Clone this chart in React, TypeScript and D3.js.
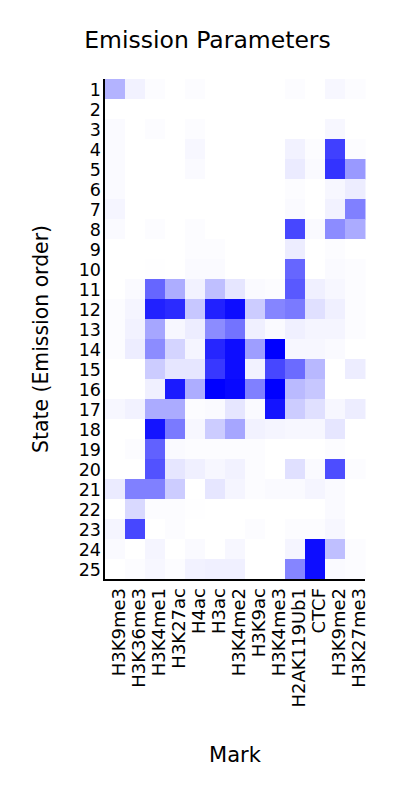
import React from "react";
import * as d3 from "d3";

const marks = [
  "H3K9me3", "H3K36me3", "H3K4me1", "H3K27ac", "H4ac", "H3ac", "H3K4me2",
  "H3K9ac", "H3K4me3", "H2AK119Ub1", "CTCF", "H3K9me2", "H3K27me3",
];
const states = d3.range(1, 26).map(String);

// emission probabilities, one row per state, columns follow `marks`
const s01 = [0.3, 0.05, 0.01, 0, 0.01, 0, 0, 0, 0, 0.01, 0, 0.03, 0.01];
const s02 = [0, 0, 0, 0, 0, 0, 0, 0, 0, 0, 0, 0, 0];
const s03 = [0.02, 0, 0.01, 0, 0.01, 0, 0, 0, 0, 0, 0, 0.03, 0];
const s04 = [0.02, 0, 0, 0, 0.03, 0, 0, 0, 0, 0.05, 0.01, 0.75, 0.01];
const s05 = [0.02, 0, 0, 0, 0.02, 0, 0, 0, 0, 0.08, 0.02, 0.8, 0.4];
const s06 = [0.02, 0, 0, 0, 0, 0, 0, 0, 0, 0.01, 0, 0.03, 0.07];
const s07 = [0.04, 0, 0, 0, 0, 0, 0, 0, 0, 0.02, 0, 0.05, 0.5];
const s08 = [0.02, 0, 0.01, 0, 0.01, 0, 0, 0, 0, 0.72, 0.02, 0.45, 0.33];
const s09 = [0, 0, 0, 0, 0.01, 0.01, 0, 0, 0, 0.07, 0, 0.01, 0];
const s10 = [0, 0, 0.005, 0, 0.02, 0.02, 0, 0, 0, 0.6, 0, 0.02, 0.01];
const s11 = [0, 0.02, 0.6, 0.32, 0.05, 0.25, 0.1, 0.02, 0.01, 0.65, 0.06, 0.03, 0.01];
const s12 = [0.01, 0.04, 0.87, 0.83, 0.22, 0.87, 0.95, 0.2, 0.48, 0.52, 0.12, 0.06, 0.01];
const s13 = [0.01, 0.05, 0.35, 0.03, 0.07, 0.45, 0.55, 0.06, 0.02, 0.06, 0.04, 0.04, 0.01];
const s14 = [0.01, 0.07, 0.45, 0.17, 0.04, 0.85, 0.95, 0.38, 1.0, 0.03, 0.03, 0.02, 0];
const s15 = [0, 0, 0.2, 0.1, 0.1, 0.78, 0.95, 0.05, 0.72, 0.58, 0.28, 0, 0.07];
const s16 = [0, 0, 0.06, 0.9, 0.32, 1.0, 0.97, 0.5, 1.0, 0.27, 0.22, 0, 0];
const s17 = [0.03, 0.05, 0.33, 0.33, 0.01, 0.02, 0.1, 0.02, 0.92, 0.2, 0.12, 0.03, 0.07];
const s18 = [0, 0, 0.92, 0.52, 0.03, 0.2, 0.35, 0.05, 0.04, 0.03, 0.03, 0.1, 0];
const s19 = [0, 0.01, 0.62, 0.02, 0.01, 0.01, 0.01, 0.01, 0, 0, 0, 0.01, 0];
const s20 = [0, 0, 0.68, 0.1, 0.06, 0.03, 0.05, 0.01, 0, 0.12, 0.02, 0.7, 0.01];
const s21 = [0.08, 0.5, 0.5, 0.2, 0, 0.1, 0.04, 0.01, 0.02, 0.02, 0.04, 0.02, 0];
const s22 = [0, 0.15, 0.01, 0.01, 0.005, 0, 0, 0, 0, 0, 0, 0.02, 0];
const s23 = [0.04, 0.72, 0, 0.01, 0, 0, 0, 0.01, 0, 0.01, 0.01, 0.03, 0];
const s24 = [0.02, 0, 0.04, 0, 0.02, 0, 0.03, 0, 0, 0.04, 0.95, 0.25, 0.01];
const s25 = [0, 0.01, 0.03, 0.01, 0.05, 0.06, 0.06, 0, 0, 0.48, 0.95, 0.02, 0.01];

const emissions = [
  s01, s02, s03, s04, s05, s06, s07, s08, s09, s10, s11, s12, s13,
  s14, s15, s16, s17, s18, s19, s20, s21, s22, s23, s24, s25,
];

const W = 415;
const H = 793;
const left = 105;
const right = 365;
const top = 79;
const bottom = 579;
const font = "DejaVu Sans, sans-serif";

export default function App() {
  const x = d3.scaleBand<string>().domain(marks).range([left, right]);
  const y = d3.scaleBand<string>().domain(states).range([top, bottom]);
  const color = d3.scaleLinear<string>().domain([0, 1]).range(["#ffffff", "#0000ff"]).clamp(true);

  return (
    <svg
      width={W}
      height={H}
      style={{ position: "absolute", left: 0, top: 0, background: "#fff" }}
      fontFamily={font}
    >
      <rect x={0} y={0} width={W} height={H} fill="#fff" />
      <text x={W / 2} y={48} textAnchor="middle" fontSize={23.5} fill="#000">
        Emission Parameters
      </text>
      {emissions.map((row, i) =>
        row.map((v, j) => (
          <rect
            key={`${i}-${j}`}
            x={x(marks[j])}
            y={y(states[i])}
            width={x.bandwidth() + 0.5}
            height={y.bandwidth() + 0.5}
            fill={color(v)}
          />
        ))
      )}
      <line x1={left - 1} x2={left - 1} y1={top} y2={bottom + 2} stroke="#000" strokeWidth={2} />
      <line x1={left - 2} x2={right} y1={bottom + 1} y2={bottom + 1} stroke="#000" strokeWidth={2} />
      {states.map((s) => (
        <text
          key={s}
          x={101}
          y={(y(s) as number) + y.bandwidth() / 2}
          dy={7.3}
          textAnchor="end"
          fontSize={17.5}
          fill="#000"
        >
          {s}
        </text>
      ))}
      {marks.map((m) => (
        <text
          key={m}
          transform={`translate(${(x(m) as number) + x.bandwidth() / 2},588) rotate(-90)`}
          dy={9.5}
          textAnchor="end"
          fontSize={18}
          fill="#000"
        >
          {m}
        </text>
      ))}
      <text x={(left + right) / 2} y={762} textAnchor="middle" fontSize={21} fill="#000">
        Mark
      </text>
      <text
        transform={`translate(48,339) rotate(-90)`}
        textAnchor="middle"
        fontSize={20.4}
        fill="#000"
      >
        State (Emission order)
      </text>
    </svg>
  );
}
